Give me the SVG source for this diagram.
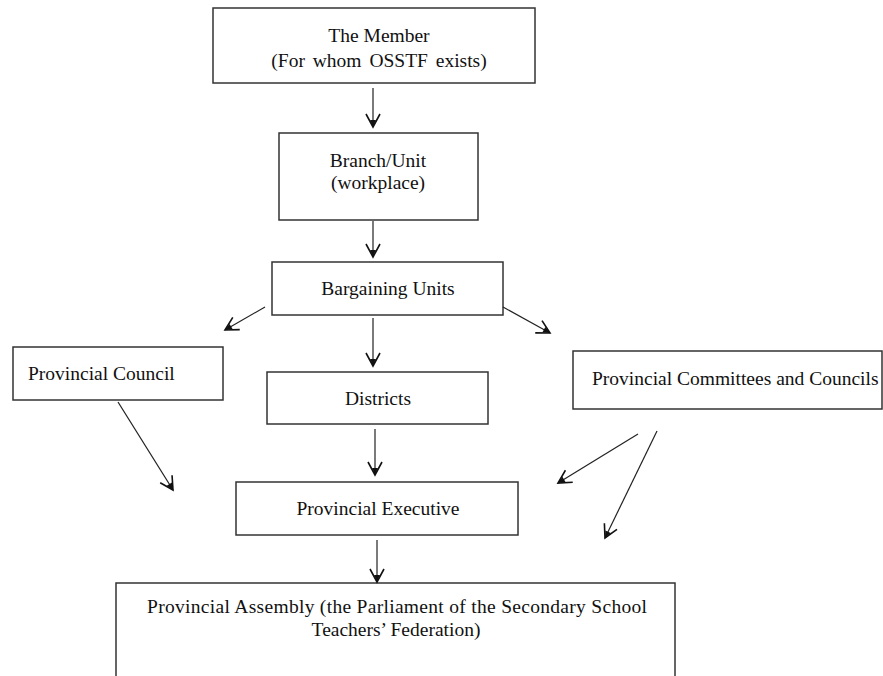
<svg xmlns="http://www.w3.org/2000/svg" width="883" height="676" viewBox="0 0 883 676">
<style>
.box{fill:#fff;stroke:#333;stroke-width:1.5}
.t{font-family:"Liberation Serif","Times New Roman",serif;font-size:19.5px;fill:#111}
.c{text-anchor:middle}
.ln{stroke:#222;stroke-width:1.2;fill:none}
</style>
<defs>
<marker id="ah" markerUnits="userSpaceOnUse" markerWidth="24" markerHeight="24" refX="0" refY="0" viewBox="-16 -12 18 24" orient="auto" overflow="visible">
<path d="M-13,-7 L0,0 L-13,7" fill="none" stroke="#111" stroke-width="1.6"/>
<path d="M-7,-3 L0,0 L-7,3 z" fill="#111"/>
</marker>
</defs>
<rect width="883" height="676" fill="#fff"/>
<g id="member">
<rect class="box" x="213" y="8" width="322" height="75"/>
<text class="t c" x="379" y="42">The Member</text>
<text class="t c" x="379" y="67" word-spacing="3">(For whom OSSTF exists)</text>
</g>
<g id="branch">
<rect class="box" x="279" y="133" width="199" height="87"/>
<text class="t c" x="378" y="167">Branch/Unit</text>
<text class="t c" x="378" y="189">(workplace)</text>
</g>
<g id="bargaining">
<rect class="box" x="272" y="262" width="231" height="53"/>
<text class="t c" x="388" y="295">Bargaining Units</text>
</g>
<g id="council">
<rect class="box" x="13" y="347" width="210" height="53"/>
<text class="t" x="28" y="380">Provincial Council</text>
</g>
<g id="districts">
<rect class="box" x="267" y="372" width="221" height="52"/>
<text class="t c" x="378" y="405">Districts</text>
</g>
<g id="committees">
<rect class="box" x="573" y="351" width="309" height="58"/>
<text class="t" x="592" y="385">Provincial Committees and Councils</text>
</g>
<g id="executive">
<rect class="box" x="236" y="482" width="282" height="53"/>
<text class="t c" x="378" y="515">Provincial Executive</text>
</g>
<g id="assembly">
<rect class="box" x="116" y="583" width="559" height="100"/>
<text class="t" x="147" y="613" textLength="500" lengthAdjust="spacing">Provincial Assembly (the Parliament of the Secondary School</text>
<text class="t c" x="396" y="636">Teachers’ Federation)</text>
</g>
<g id="connectors">
<line class="ln" x1="373" y1="88" x2="373" y2="127" marker-end="url(#ah)"/>
<line class="ln" x1="373" y1="221" x2="373" y2="257" marker-end="url(#ah)"/>
<line class="ln" x1="373" y1="318" x2="373" y2="366" marker-end="url(#ah)"/>
<line class="ln" x1="265" y1="307" x2="225" y2="330" marker-end="url(#ah)"/>
<line class="ln" x1="503" y1="307" x2="550" y2="333" marker-end="url(#ah)"/>
<line class="ln" x1="375" y1="429" x2="375" y2="475" marker-end="url(#ah)"/>
<line class="ln" x1="118" y1="402" x2="173" y2="490" marker-end="url(#ah)"/>
<line class="ln" x1="638" y1="434" x2="558" y2="483" marker-end="url(#ah)"/>
<line class="ln" x1="657" y1="431" x2="605" y2="538" marker-end="url(#ah)"/>
<line class="ln" x1="377" y1="540" x2="377" y2="582" marker-end="url(#ah)"/>
</g>
</svg>
